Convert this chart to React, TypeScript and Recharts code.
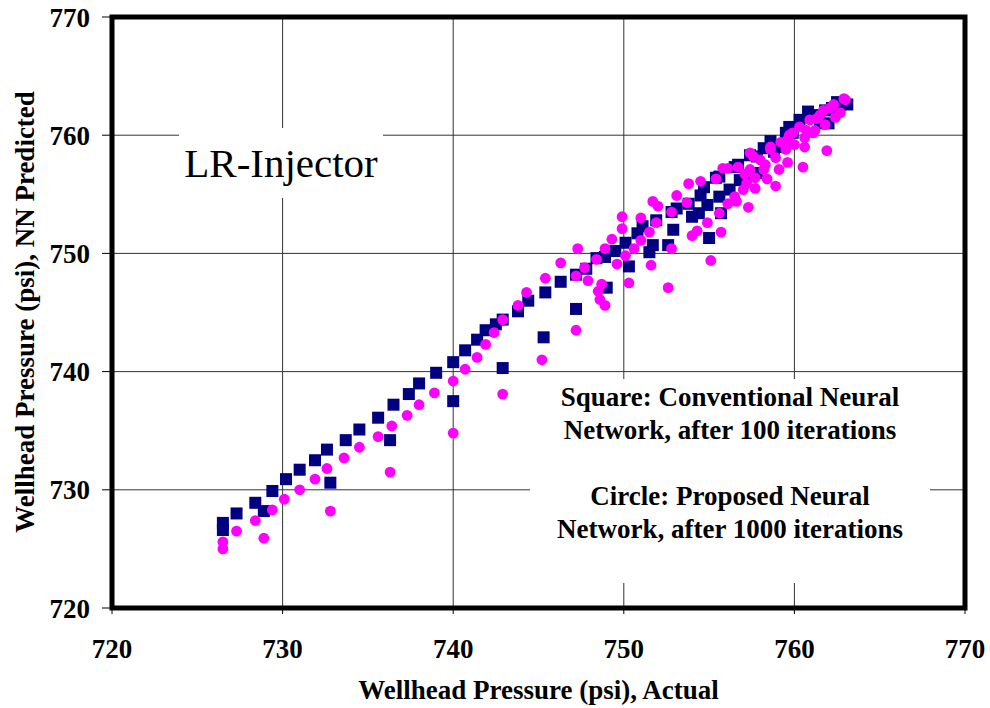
import React from 'react';
import { ScatterChart, Scatter, XAxis, YAxis, CartesianGrid, ReferenceArea } from 'recharts';

const xTicks = [720, 730, 740, 750, 760, 770];
const yTicks = [720, 730, 740, 750, 760, 770];

// Square: Conventional Neural Network (actual vs predicted)
const conventionalActual = [
  726.5, 726.5, 727.3, 728.4, 728.9, 729.4, 730.2, 731.0, 731.9, 732.6,
  732.8, 733.7, 734.5, 735.6, 736.3, 736.5, 737.4, 738.0, 739.0, 740.0,
  740.0, 740.7, 741.4, 741.9, 742.5, 742.9, 742.9, 743.8, 744.4, 745.3,
  745.4, 746.3, 747.2, 747.2, 747.8, 748.4, 748.9, 749.0, 749.5, 750.1,
  750.3, 750.8, 751.1, 751.5, 751.7, 751.9, 752.6, 752.8, 752.9, 753.1,
  753.8, 754.0, 754.5, 754.4, 754.9, 755.0, 755.4, 755.6, 755.7, 756.2,
  756.7, 756.8, 757.2, 757.4, 757.8, 757.8, 758.6, 758.8, 759.2, 759.7,
  759.9, 760.8, 761.5, 762.0, 762.5, 763.1, 758.2, 759.5, 760.3, 761.2,
  761.8, 762.7, 756.5, 755.6, 754.7, 761.0, 762.2,
];
const conventionalPredicted = [
  727.2, 726.6, 728.0, 728.9, 728.2, 729.9, 730.9, 731.7, 732.5, 733.4,
  730.6, 734.2, 735.1, 736.1, 734.2, 737.2, 738.1, 739.0, 739.9, 740.8,
  737.5, 741.8, 742.7, 743.5, 744.0, 744.4, 740.3, 745.1, 746.0, 742.9,
  746.7, 747.6, 745.3, 748.2, 748.7, 749.6, 749.7, 747.1, 750.2, 750.9,
  748.9, 751.7, 752.3, 750.1, 750.7, 752.8, 750.7, 753.5, 752.0, 753.8,
  754.2, 753.1, 754.9, 753.4, 754.1, 751.3, 756.4, 754.8, 753.4, 755.4,
  757.5, 756.2, 756.5, 758.3, 758.2, 756.8, 759.5, 758.6, 759.0, 760.7,
  760.2, 762.0, 761.0, 761.0, 762.8, 762.6, 758.9, 760.2, 761.3, 761.7,
  762.1, 762.6, 757.3, 756.5, 755.6, 761.5, 762.3,
];

// Circle: Proposed Neural Network (actual vs predicted)
const proposedActual = [
  726.5, 726.5, 727.3, 728.4, 728.9, 729.4, 730.1, 731.0, 731.9, 732.6,
  732.8, 733.6, 734.5, 735.6, 736.3, 736.4, 737.3, 738.0, 738.9, 740.0,
  740.0, 740.7, 741.4, 741.9, 742.4, 742.9, 743.8, 742.9, 745.2, 744.3,
  745.4, 746.3, 747.2, 747.2, 747.3, 747.7, 747.9, 748.4, 748.5, 748.6,
  748.9, 748.7, 748.9, 749.3, 749.6, 749.9, 749.9, 750.1, 750.3, 750.6,
  751.0, 751.0, 751.5, 751.6, 751.7, 751.9, 752.0, 752.6, 752.8, 752.8,
  753.1, 753.7, 753.8, 754.0, 754.3, 754.5, 754.9, 755.1, 755.4, 755.6,
  755.7, 755.8, 756.1, 756.1, 756.5, 756.6, 756.7, 757.0, 757.2, 757.3,
  757.4, 757.6, 757.7, 757.7, 758.2, 758.4, 758.6, 758.9, 759.1, 759.6,
  759.6, 759.9, 760.5, 760.6, 760.7, 761.1, 761.9, 761.3, 761.7, 762.3,
  762.7, 762.9, 757.4, 758.0, 758.6, 759.2, 759.7, 760.3, 760.9, 761.5,
  762.1, 763.0, 762.4, 761.8, 761.2, 760.6, 760.0, 759.5, 758.9, 758.3,
  757.1,
];
const proposedPredicted = [
  725.6, 725.0, 726.5, 727.4, 725.9, 728.3, 729.2, 730.0, 730.9, 731.8,
  728.2, 732.7, 733.6, 734.5, 731.5, 735.4, 736.3, 737.2, 738.2, 739.2,
  734.8, 740.2, 741.2, 742.3, 743.3, 744.4, 745.6, 738.1, 741.0, 746.7,
  747.9, 749.2, 748.1, 743.5, 750.4, 748.8, 747.7, 749.5, 746.8, 746.1,
  745.6, 747.4, 750.4, 751.2, 749.1, 753.1, 752.1, 749.8, 747.5, 750.4,
  753.0, 751.1, 751.8, 749.0, 754.4, 752.6, 754.0, 747.1, 753.5, 750.4,
  754.9, 754.3, 755.9, 751.5, 751.9, 756.1, 752.6, 749.4, 756.3, 753.4,
  751.8, 757.2, 757.2, 754.2, 754.8, 754.4, 757.3, 755.4, 755.9, 753.9,
  758.5, 758.2, 756.4, 755.5, 757.1, 756.3, 759.0, 755.7, 757.1, 757.7,
  759.6, 760.2, 757.3, 759.0, 760.4, 760.2, 758.7, 761.4, 762.1, 762.6,
  761.9, 763.1, 757.1, 757.9, 758.8, 759.4, 760.0, 760.7, 761.3, 761.7,
  762.3, 763.0, 761.5, 760.9, 760.4, 759.8, 759.2, 758.8, 758.1, 757.5,
  756.7,
];

const conventionalData = conventionalActual.map((x, i) => ({ x, y: conventionalPredicted[i] }));
const proposedData = proposedActual.map((x, i) => ({ x, y: proposedPredicted[i] }));

const FONT = '"Liberation Serif", "Times New Roman", serif';

const SquareShape = (props: any) => {
  const { cx, cy } = props;
  return <rect x={cx - 6} y={cy - 6} width={12} height={12} fill="#000080" />;
};
const CircleShape = (props: any) => {
  const { cx, cy } = props;
  return <circle cx={cx} cy={cy} r={5.4} fill="#FF00FF" />;
};

const tickStyle = { fontFamily: FONT, fontWeight: 700, fontSize: 27, fill: '#000' };

export default function App() {
  return (
    <div style={{ position: 'absolute', left: 0, top: 0, width: 990, height: 708, background: '#fff', fontFamily: FONT }}>
      <ScatterChart width={990} height={708} margin={{ top: 17, right: 25, left: 0, bottom: 0 }}>
        <CartesianGrid stroke="#333" strokeWidth={1} horizontalValues={yTicks} verticalValues={xTicks} />
        <XAxis
          type="number"
          dataKey="x"
          domain={[720, 770]}
          ticks={xTicks}
          interval={0}
          height={100}
          axisLine={false}
          tickLine={{ stroke: '#000' }}
          tickSize={6}
          tickMargin={25}
          tick={tickStyle}
        />
        <YAxis
          type="number"
          dataKey="y"
          domain={[720, 770]}
          ticks={yTicks}
          interval={0}
          width={112}
          axisLine={false}
          tickLine={{ stroke: '#000' }}
          tickSize={10}
          tickMargin={12}
          tick={tickStyle}
        />
        <Scatter data={conventionalData} shape={SquareShape} isAnimationActive={false} />
        <Scatter data={proposedData} shape={CircleShape} isAnimationActive={false} />
        <ReferenceArea x1={720} x2={770} y1={720} y2={770} fill="none" fillOpacity={0} stroke="#000" strokeWidth={5} ifOverflow="visible" />
      </ScatterChart>

      {/* LR-Injector label box */}
      <div style={{ position: 'absolute', left: 179, top: 128, width: 204, height: 70, background: '#fff', display: 'flex', alignItems: 'center', justifyContent: 'center', fontSize: 41, color: '#000', whiteSpace: 'nowrap' }}>
        LR-Injector
      </div>

      {/* Annotation box */}
      <div style={{ position: 'absolute', left: 530, top: 379, width: 400, height: 204, background: '#fff' }}>
        <div style={{ position: 'absolute', left: 0, top: 2, width: 400, textAlign: 'center', fontWeight: 700, fontSize: 27, lineHeight: '33px', color: '#000', whiteSpace: 'nowrap' }}>
          <div>Square: Conventional Neural</div>
          <div>Network, after 100 iterations</div>
          <div>&nbsp;</div>
          <div>Circle: Proposed Neural</div>
          <div>Network, after 1000 iterations</div>
        </div>
      </div>

      {/* Axis titles */}
      <div style={{ position: 'absolute', left: 112, top: 674, width: 853, textAlign: 'center', fontWeight: 700, fontSize: 27, lineHeight: '32px', color: '#000', whiteSpace: 'nowrap' }}>
        Wellhead Pressure (psi), Actual
      </div>
      <div style={{ position: 'absolute', left: 25, top: 312, width: 0, height: 0 }}>
        <div style={{ position: 'absolute', left: -300, top: -16, width: 600, textAlign: 'center', fontWeight: 700, fontSize: 27, lineHeight: '32px', color: '#000', whiteSpace: 'nowrap', transform: 'rotate(-90deg)', transformOrigin: '300px 16px' }}>
          Wellhead Pressure (psi), NN Predicted
        </div>
      </div>
    </div>
  );
}
